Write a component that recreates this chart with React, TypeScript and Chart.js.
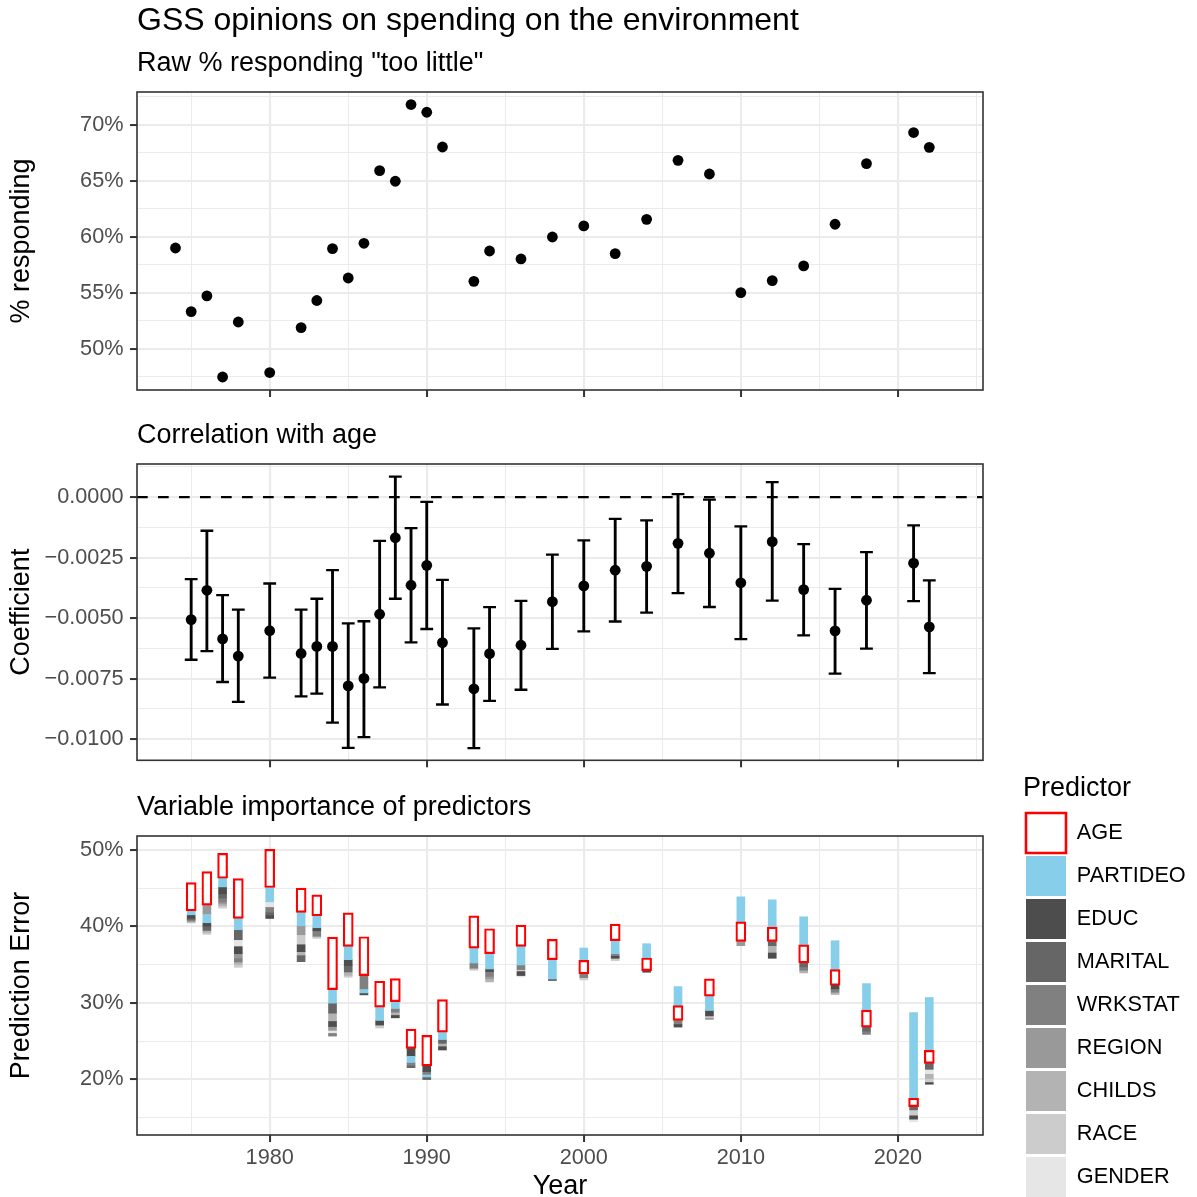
import React, { useEffect, useRef } from "react";
import { Chart, registerables } from "chart.js";

Chart.register(...registerables);

const FONT = "'Liberation Sans', Arial, Helvetica, sans-serif";
const TICK_FONT = 21.7;
const TITLE_FONT = 27;
Chart.defaults.font.family = FONT;

// ---------- shared x axis ----------
const X_MIN = 1971.55;
const X_MAX = 2025.42;
const xMajorTicks = [1980, 1990, 2000, 2010, 2020];
const xMinorTicks = [1975, 1985, 1995, 2005, 2015, 2025];
const xTickLabels = ["1980", "1990", "2000", "2010", "2020"];

// ---------- panel 1: raw % "too little" ----------
const yearsRaw = [1974, 1975, 1976, 1977, 1978, 1980, 1982, 1983, 1984, 1985, 1986, 1987, 1988, 1989, 1990, 1991, 1993, 1994, 1996, 1998, 2000, 2002, 2004, 2006, 2008, 2010, 2012, 2014, 2016, 2018, 2021, 2022];
const pctTooLittle = [58.98, 53.3, 54.7, 47.46, 52.37, 47.86, 51.87, 54.29, 58.93, 56.3, 59.4, 65.89, 64.94, 71.79, 71.1, 68.0, 56.0, 58.71, 58.0, 59.96, 60.95, 58.48, 61.54, 66.81, 65.59, 55.0, 56.07, 57.38, 61.1, 66.52, 69.29, 67.97];
const pctMajorTicks = [50, 55, 60, 65, 70];
const pctMinorTicks = [47.5, 52.5, 57.5, 62.5, 67.5, 72.5];
const pctTickLabels = ["50%", "55%", "60%", "65%", "70%"];

// ---------- panel 2: correlation with age ----------
const yearsCoef = [1975, 1976, 1977, 1978, 1980, 1982, 1983, 1984, 1985, 1986, 1987, 1988, 1989, 1990, 1991, 1993, 1994, 1996, 1998, 2000, 2002, 2004, 2006, 2008, 2010, 2012, 2014, 2016, 2018, 2021, 2022];
const coefEst = [-0.00506, -0.00385, -0.00586, -0.00657, -0.00552, -0.00646, -0.00617, -0.00617, -0.0078, -0.00749, -0.00484, -0.00168, -0.00364, -0.00282, -0.00601, -0.00792, -0.00647, -0.00612, -0.00432, -0.00367, -0.00302, -0.00286, -0.00191, -0.00232, -0.00354, -0.00184, -0.00382, -0.00553, -0.00426, -0.00273, -0.00536];
const coefHigh = [-0.00339, -0.00139, -0.00405, -0.00465, -0.00357, -0.00465, -0.0042, -0.00302, -0.00522, -0.00513, -0.00181, 0.00085, -0.00128, -0.0002, -0.00342, -0.00542, -0.00455, -0.00429, -0.00238, -0.00179, -0.0009, -0.00096, 0.00012, -0.0001, -0.00121, 0.00062, -0.00194, -0.00379, -0.00227, -0.00117, -0.00344];
const coefLow = [-0.00672, -0.00636, -0.00764, -0.00846, -0.00746, -0.00823, -0.00812, -0.00932, -0.01036, -0.00992, -0.00786, -0.0042, -0.006, -0.00545, -0.00857, -0.01037, -0.00842, -0.00796, -0.00627, -0.00555, -0.00514, -0.00477, -0.00397, -0.00454, -0.00587, -0.00428, -0.00571, -0.00729, -0.00626, -0.0043, -0.00727];
const coefReference = 0;
const coefMajorTicks = [0, -0.0025, -0.005, -0.0075, -0.01];
const coefMinorTicks = [0.00125, -0.00125, -0.00375, -0.00625, -0.00875];
const coefTickLabels = ["0.0000", "\u22120.0025", "\u22120.0050", "\u22120.0075", "\u22120.0100"];

// ---------- panel 3: variable importance ----------
const errMajorTicks = [20, 30, 40, 50];
const errMinorTicks = [15, 25, 35, 45];
const errTickLabels = ["20%", "30%", "40%", "50%"];

const predictors = ["AGE", "PARTIDEO", "EDUC", "MARITAL", "WRKSTAT", "REGION", "CHILDS", "RACE", "GENDER"];
const predictorColors = ["#FFFFFF", "#87CEEB", "#4D4D4D", "#666666", "#808080", "#999999", "#B3B3B3", "#CCCCCC", "#E6E6E6"];

type Seg = [number, number, number]; // [year, low, high]
const ageSegs: Seg[] = [[1975, 42.04, 45.73], [1976, 42.78, 47.17], [1977, 46.3, 49.56], [1978, 41.04, 46.26], [1980, 45.09, 50.09], [1982, 41.83, 45.0], [1983, 41.39, 44.13], [1984, 31.74, 38.6], [1985, 37.39, 41.78], [1986, 33.57, 38.65], [1987, 29.43, 32.83], [1988, 30.17, 33.17], [1989, 24.04, 26.57], [1990, 21.74, 25.74], [1991, 26.17, 30.43], [1993, 37.17, 41.39], [1994, 36.43, 39.7], [1996, 37.39, 40.17], [1998, 35.65, 38.3], [2000, 33.78, 35.57], [2002, 38.13, 40.3], [2004, 34.22, 35.87], [2006, 27.7, 29.65], [2008, 30.87, 33.13], [2010, 38.04, 40.6], [2012, 38.04, 39.91], [2014, 35.22, 37.6], [2016, 32.3, 34.35], [2018, 26.83, 29.04], [2021, 16.43, 17.52], [2022, 22.09, 23.78]];
const partideoSegs: Seg[] = [[1975, 41.52, 42.04], [1976, 40.48, 41.56], [1977, 45.17, 46.3], [1978, 39.57, 41.04], [1980, 43.22, 45.09], [1982, 40.09, 41.83], [1983, 39.83, 41.39], [1984, 29.96, 31.74], [1985, 35.65, 37.39], [1986, 31.3, 31.74], [1987, 27.7, 29.43], [1988, 29.26, 30.17], [1989, 22.2, 23.0], [1990, 20.3, 20.57], [1991, 25.2, 26.17], [1993, 35.22, 37.17], [1994, 34.43, 36.43], [1996, 34.96, 37.39], [1998, 33.13, 35.65], [2000, 35.57, 37.17], [2002, 36.43, 38.13], [2004, 35.87, 37.74], [2006, 29.65, 32.13], [2008, 29.0, 30.87], [2010, 40.6, 43.87], [2012, 39.91, 43.48], [2014, 37.6, 41.26], [2016, 34.35, 38.13], [2018, 29.04, 32.52], [2021, 17.52, 28.74], [2022, 23.78, 30.7]];
const educSegs: Seg[] = [[1975, 41.04, 41.52], [1976, 40.0, 40.48], [1977, 44.26, 45.17], [1978, 36.43, 37.35], [1980, 41.04, 41.39], [1982, 36.7, 37.6], [1983, 39.43, 39.83], [1984, 26.9, 27.56], [1985, 34.87, 35.65], [1986, 31.04, 31.3], [1987, 27.09, 27.7], [1988, 28.04, 28.35], [1989, 23.0, 24.04], [1990, 21.0, 21.74], [1991, 23.83, 24.26], [1994, 34.09, 34.43], [1996, 33.57, 34.09], [2002, 35.83, 36.09], [2004, 34.0, 34.22], [2006, 26.83, 27.17], [2008, 28.26, 29.0], [2012, 35.83, 36.52], [2016, 31.83, 32.3], [2021, 14.78, 15.22], [2022, 19.35, 19.57]];
const maritalSegs: Seg[] = [[1975, 40.9, 41.04], [1976, 39.48, 40.0], [1977, 43.7, 44.26], [1978, 38.26, 39.57], [1980, 41.39, 41.78], [1982, 35.39, 36.17], [1984, 28.65, 29.96], [1985, 34.04, 34.87], [1989, 21.52, 21.74], [1990, 19.96, 20.3], [1991, 24.7, 25.2], [1998, 32.91, 33.13], [2012, 37.48, 38.04], [2014, 34.7, 35.22], [2018, 26.3, 26.83], [2021, 16.0, 16.43], [2022, 21.3, 22.09]];
const wrkstatSegs: Seg[] = [[1975, 40.75, 40.9], [1977, 43.2, 43.7], [1978, 35.35, 35.78], [1980, 41.78, 42.48], [1983, 38.7, 39.43], [1984, 25.65, 26.0], [1986, 31.74, 33.57], [1988, 28.78, 29.26], [1989, 21.74, 22.2], [1990, 20.57, 21.0], [1993, 34.52, 35.22], [1994, 33.47, 34.09], [1996, 34.35, 34.96], [2000, 33.3, 33.78], [2002, 36.09, 36.43], [2006, 27.17, 27.7], [2014, 34.26, 34.7], [2016, 31.39, 31.83], [2018, 25.87, 26.3]];
const regionSegs: Seg[] = [[1975, 40.65, 40.75], [1976, 41.56, 42.78], [1977, 42.95, 43.2], [1978, 35.78, 36.43], [1982, 38.91, 40.09], [1984, 26.4, 26.9], [1994, 33.17, 33.47], [2008, 27.83, 28.05], [2010, 37.48, 38.04]];
const childsSegs: Seg[] = [[1975, 40.55, 40.65], [1976, 39.2, 39.48], [1977, 42.7, 42.95], [1978, 35.04, 35.35], [1982, 36.17, 36.7], [1984, 27.56, 28.65], [1985, 33.6, 34.04], [1988, 28.35, 28.78], [1991, 24.26, 24.7], [1994, 32.74, 33.17], [2012, 36.52, 37.48], [2014, 33.91, 34.26], [2016, 31.09, 31.39], [2022, 20.09, 20.65]];
const raceSegs: Seg[] = [[1975, 40.45, 40.55], [1976, 38.96, 39.2], [1977, 42.39, 42.7], [1978, 34.65, 35.04], [1982, 37.6, 38.91], [1983, 38.43, 38.7], [1985, 33.35, 33.6], [1987, 26.7, 27.09], [1993, 34.26, 34.52], [1996, 34.09, 34.35], [2000, 33.0, 33.3], [2002, 35.52, 35.83], [2021, 15.22, 16.0], [2022, 19.57, 20.09]];
const genderSegs: Seg[] = [[1978, 37.35, 38.26], [1980, 42.48, 43.22], [1984, 26.0, 26.4], [1996, 33.4, 33.57], [2021, 14.43, 14.78], [2022, 20.65, 21.3]];
const predictorSegs: Seg[][] = [ageSegs, partideoSegs, educSegs, maritalSegs, wrkstatSegs, regionSegs, childsSegs, raceSegs, genderSegs];

// ---------- helpers ----------
function axisTicks(majors: number[], minors: number[], labels: string[]) {
  const labelOf = new Map<number, string>(majors.map((v, i) => [v, labels[i]]));
  const isMajor = (v: any) => labelOf.has(v);
  const all = [...majors, ...minors].sort((a, b) => a - b);
  return {
    type: "linear",
    afterBuildTicks: (s: any) => {
      s.ticks = all.map((v) => ({ value: v }));
    },
    ticks: {
      autoSkip: false,
      maxRotation: 0,
      minRotation: 0,
      color: "#4D4D4D",
      font: { family: FONT, size: TICK_FONT },
      callback: (v: any) => labelOf.get(v) ?? "",
    },
    grid: {
      color: "#EBEBEB",
      lineWidth: (c: any) => (isMajor(c.tick?.value) ? 2.1 : 1.05),
      drawTicks: true,
      tickLength: 7,
      tickWidth: 2,
      tickColor: (c: any) => (isMajor(c.tick?.value) ? "#333333" : "rgba(0,0,0,0)"),
      offset: false,
    },
    border: { display: false },
  };
}

function xAxis(showLabels: boolean, height: number) {
  const base: any = axisTicks(xMajorTicks, xMinorTicks, xTickLabels);
  return {
    ...base,
    min: X_MIN,
    max: X_MAX,
    offset: false,
    position: "bottom",
    ticks: { ...base.ticks, display: showLabels, padding: 3 },
    afterFit: (s: any) => {
      s.height = height;
      s.paddingLeft = 0;
      s.paddingRight = 0;
    },
  };
}

function yAxis(majors: number[], minors: number[], labels: string[], min: number, max: number, title: string) {
  const base: any = axisTicks(majors, minors, labels);
  return {
    ...base,
    min,
    max,
    position: "left",
    ticks: { ...base.ticks, padding: 6.5 },
    title: {
      display: true,
      text: title,
      color: "#000000",
      font: { family: FONT, size: TITLE_FONT, weight: "normal" },
      padding: { top: 5.3, bottom: 0 },
    },
    afterFit: (s: any) => {
      s.width = 137;
      s.paddingTop = 0;
      s.paddingBottom = 0;
    },
  };
}

function panelTitle(text: string, size: number, top: number, bottom: number) {
  return {
    display: true,
    text,
    align: "start",
    fullSize: false,
    color: "#000000",
    font: { family: FONT, size, weight: "normal" },
    padding: { top, bottom },
  };
}

const panelBorder = {
  id: "panelBorder",
  afterDatasetsDraw(chart: any) {
    const { ctx, chartArea: a } = chart;
    ctx.save();
    ctx.strokeStyle = "#333333";
    ctx.lineWidth = 1.6;
    ctx.strokeRect(a.left, a.top, a.right - a.left, a.bottom - a.top);
    ctx.restore();
  },
};

const baseOptions = {
  responsive: false,
  maintainAspectRatio: false,
  animation: false,
  devicePixelRatio: 1,
  events: [],
};

const PANEL_RIGHT = 983;
const LEGEND_LEFT = 1023;
const BOTTOM_CANVAS_W = 1260;

// ---------- chart configs ----------
function makeTopChart(): any {
  return {
    type: "scatter",
    data: {
      datasets: [
        {
          label: "% too little",
          data: yearsRaw.map((x, i) => ({ x, y: pctTooLittle[i] })),
          pointRadius: 5.4,
          pointHoverRadius: 5.4,
          pointBackgroundColor: "#000000",
          pointBorderWidth: 0,
          backgroundColor: "#000000",
          borderColor: "#000000",
        },
      ],
    },
    options: {
      ...baseOptions,
      layout: { padding: { left: 0, right: 1197 - PANEL_RIGHT, top: 0, bottom: 0 } },
      plugins: {
        legend: { display: false },
        tooltip: { enabled: false },
        title: panelTitle("GSS opinions on spending on the environment", 32, 2.2, 0),
        subtitle: panelTitle('Raw % responding "too little"', TITLE_FONT, 6.3, 12.7),
      },
      scales: {
        x: xAxis(false, 7),
        y: yAxis(pctMajorTicks, pctMinorTicks, pctTickLabels, 46.3, 72.91, "% responding"),
      },
    },
    plugins: [panelBorder],
  };
}

function makeCoefChart(): any {
  return {
    type: "bar",
    data: {
      datasets: [
        {
          type: "scatter",
          label: "estimate",
          data: yearsCoef.map((x, i) => ({ x, y: coefEst[i] })),
          pointRadius: 5.4,
          pointHoverRadius: 5.4,
          pointBackgroundColor: "#000000",
          pointBorderWidth: 0,
          backgroundColor: "#000000",
          borderColor: "#000000",
        },
        {
          type: "scatter",
          label: "caps",
          data: [
            ...yearsCoef.map((x, i) => ({ x, y: coefHigh[i] })),
            ...yearsCoef.map((x, i) => ({ x, y: coefLow[i] })),
          ],
          pointStyle: "line",
          pointRadius: 6.4,
          pointHoverRadius: 6.4,
          pointBorderWidth: 2.3,
          pointBorderColor: "#000000",
          borderColor: "#000000",
        },
        {
          type: "bar",
          label: "interval",
          data: yearsCoef.map((x, i) => ({ x, y: [coefLow[i], coefHigh[i]] })),
          backgroundColor: "#000000",
          borderWidth: 0,
          barThickness: 2.2,
          maxBarThickness: 2.2,
          grouped: false,
        },
        {
          type: "line",
          label: "zero",
          data: [
            { x: X_MIN, y: coefReference },
            { x: X_MAX, y: coefReference },
          ],
          borderColor: "#000000",
          borderWidth: 2.4,
          borderDash: [10.7, 10.3],
          pointRadius: 0,
          fill: false,
        },
      ],
    },
    options: {
      ...baseOptions,
      layout: { padding: { left: 0, right: 1197 - PANEL_RIGHT, top: 0, bottom: 0 } },
      plugins: {
        legend: { display: false },
        tooltip: { enabled: false },
        title: panelTitle("Correlation with age", TITLE_FONT, 22.4, 12.2),
      },
      scales: {
        x: xAxis(false, 7),
        y: yAxis(coefMajorTicks, coefMinorTicks, coefTickLabels, -0.010875, 0.001368, "Coefficient"),
      },
    },
    plugins: [panelBorder],
  };
}

function legendWidthFor(labels: string[]) {
  // same measurement Chart.js uses for a one-column vertical legend
  const c = document.createElement("canvas").getContext("2d") as CanvasRenderingContext2D;
  c.font = `normal ${TICK_FONT}px ${FONT}`;
  const widest = Math.max(...labels.map((t) => c.measureText(t).width));
  return 3 + 40 + TICK_FONT / 2 + widest + 10;
}

function makeImportanceChart(): any {
  const datasets = predictors.map((name, k) => {
    const isAge = k === 0;
    return {
      type: "bar",
      label: name,
      data: predictorSegs[k].map(([x, lo, hi]) => ({ x, y: [lo, hi] })),
      backgroundColor: predictorColors[k],
      borderColor: isAge ? "#FF0000" : predictorColors[k],
      borderWidth: isAge ? 2.2 : 0,
      borderSkipped: false,
      barThickness: isAge ? 10 : 8,
      maxBarThickness: isAge ? 10 : 8,
      grouped: false,
    };
  });
  const xa: any = xAxis(true, 65);
  xa.title = {
    display: true,
    text: "Year",
    color: "#000000",
    font: { family: FONT, size: TITLE_FONT, weight: "normal" },
    padding: { top: 0, bottom: -2.8 },
  };
  const legendW = legendWidthFor(predictors);
  const padRight = Math.max(0, BOTTOM_CANVAS_W - LEGEND_LEFT - legendW);
  return {
    type: "bar",
    data: { datasets },
    options: {
      ...baseOptions,
      layout: { padding: { left: 0, right: padRight, top: 0, bottom: 0 } },
      plugins: {
        tooltip: { enabled: false },
        title: panelTitle("Variable importance of predictors", TITLE_FONT, 22.4, 12.2),
        legend: {
          display: true,
          position: "right",
          align: "end",
          title: {
            display: true,
            text: "Predictor",
            position: "start",
            color: "#000000",
            font: { family: FONT, size: TITLE_FONT, weight: "normal" },
            padding: { top: 0, bottom: 3 },
          },
          labels: {
            boxWidth: 40,
            boxHeight: 40,
            padding: 3,
            color: "#000000",
            font: { family: FONT, size: TICK_FONT },
            generateLabels: () =>
              predictors.map((name, k) => ({
                text: name,
                fillStyle: predictorColors[k],
                strokeStyle: k === 0 ? "#FF0000" : predictorColors[k],
                lineWidth: k === 0 ? 2.6 : 0,
                fontColor: "#000000",
                hidden: false,
                datasetIndex: k,
              })),
          },
        },
      },
      scales: {
        x: xa,
        y: yAxis(errMajorTicks, errMinorTicks, errTickLabels, 12.71, 51.83, "Prediction Error"),
        yGap: {
          type: "linear",
          position: "right",
          display: true,
          grid: { display: false, drawTicks: false },
          ticks: { display: false },
          border: { display: false },
          afterFit: (s: any) => {
            s.width = LEGEND_LEFT - PANEL_RIGHT;
          },
        },
      },
    },
    plugins: [panelBorder],
  };
}

function ChartCanvas({ make, top, height, width = 1197 }: { make: () => any; top: number; height: number; width?: number }) {
  const ref = useRef<HTMLCanvasElement>(null);
  useEffect(() => {
    const chart = new Chart(ref.current as HTMLCanvasElement, make());
    return () => chart.destroy();
  }, []);
  return (
    <canvas
      ref={ref}
      width={width}
      height={height}
      style={{ position: "absolute", left: 0, top, width, height, display: "block" }}
    />
  );
}

export default function App() {
  return (
    <div
      style={{
        position: "absolute",
        left: 0,
        top: 0,
        width: 1197,
        height: 1197,
        overflow: "hidden",
        background: "#ffffff",
      }}
    >
      <ChartCanvas make={makeTopChart} top={0} height={397} />
      <ChartCanvas make={makeCoefChart} top={397} height={372} />
      <ChartCanvas make={makeImportanceChart} top={769} height={431} width={BOTTOM_CANVAS_W} />
    </div>
  );
}
